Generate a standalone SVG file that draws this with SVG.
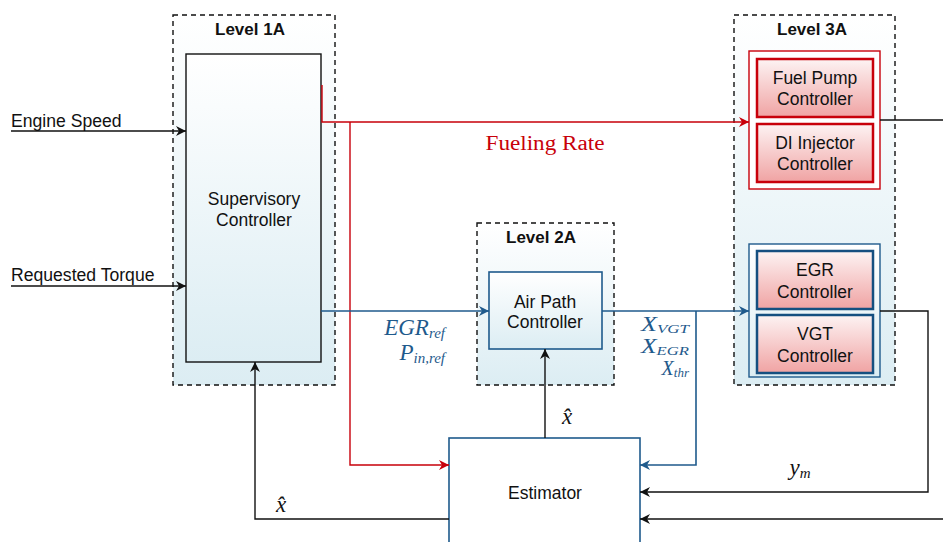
<svg xmlns="http://www.w3.org/2000/svg" width="943" height="542" viewBox="0 0 943 542">
<style>
.lbl{font-family:"Liberation Sans",Arial,sans-serif;font-size:17.6px;fill:#111}
.lvl{font-family:"Liberation Sans",Arial,sans-serif;font-size:17px;font-weight:bold;fill:#111}
.node{font-family:"Liberation Sans",Arial,sans-serif;font-size:17.5px;fill:#111;text-anchor:middle}
.math{font-family:"Liberation Serif","Times New Roman",serif;font-style:italic;font-size:23px}
.mx{font-size:20px}
.sub{font-size:15px}
.sx{font-size:13px}
.dash{stroke:#111;stroke-width:1.4;stroke-dasharray:5,4;fill:url(#gBlue)}
.blk{fill:none;stroke:#111;stroke-width:1.4}
.red{fill:none;stroke:#c8000a;stroke-width:1.4}
.blu{fill:none;stroke:#1f5a8c;stroke-width:1.6}
.rbox{fill:url(#gPink);stroke:#c8000a;stroke-width:2.5}
.bbox{fill:url(#gPink);stroke:#154f80;stroke-width:2.5}
</style>
<defs>
<linearGradient id="gBlue" x1="0" y1="0" x2="0" y2="1"><stop offset="0" stop-color="#ffffff"/><stop offset="1" stop-color="#dcedf3"/></linearGradient>
<linearGradient id="gPink" x1="0" y1="0" x2="0" y2="1"><stop offset="0" stop-color="#fdf3f3"/><stop offset="1" stop-color="#f0a3a3"/></linearGradient>
<marker id="aK" markerUnits="userSpaceOnUse" markerWidth="12" markerHeight="10" refX="10" refY="5" orient="auto"><path d="M0,0 L10,5 L0,10 L3,5 Z" fill="#111"/></marker>
<marker id="aR" markerUnits="userSpaceOnUse" markerWidth="12" markerHeight="10" refX="10" refY="5" orient="auto"><path d="M0,0 L10,5 L0,10 L3,5 Z" fill="#c8000a"/></marker>
<marker id="aB" markerUnits="userSpaceOnUse" markerWidth="12" markerHeight="10" refX="10" refY="5" orient="auto"><path d="M0,0 L10,5 L0,10 L3,5 Z" fill="#1f5a8c"/></marker>
</defs>

<g id="level1A">
<rect class="dash" x="173" y="15" width="162" height="370"/>
<text class="lvl" x="250" y="35" text-anchor="middle">Level 1A</text>
</g>
<g id="level2A">
<rect class="dash" x="477" y="223" width="137" height="162"/>
<text class="lvl" x="541" y="243" text-anchor="middle">Level 2A</text>
</g>
<g id="level3A">
<rect class="dash" x="734" y="15" width="161" height="370"/>
<text class="lvl" x="812" y="35" text-anchor="middle">Level 3A</text>
</g>

<g id="supervisory">
<rect x="186" y="54" width="135" height="308" fill="url(#gBlue)" stroke="#111" stroke-width="1.4"/>
<text class="node" x="254" y="205">Supervisory</text>
<text class="node" x="254" y="226">Controller</text>
</g>
<g id="airpath">
<rect x="489" y="272" width="113" height="77" fill="url(#gBlue)" stroke="#1f5a8c" stroke-width="1.6"/>
<text class="node" x="545" y="308">Air Path</text>
<text class="node" x="545" y="328">Controller</text>
</g>
<g id="fuelGroup">
<rect x="749" y="51" width="131" height="138" fill="#fff" stroke="#c8000a" stroke-width="1.4"/>
</g>
<g id="fuelpump">
<rect class="rbox" x="757" y="59" width="116" height="58"/>
<text class="node" x="815" y="84">Fuel Pump</text>
<text class="node" x="815" y="105">Controller</text>
</g>
<g id="diinjector">
<rect class="rbox" x="757" y="124" width="116" height="58"/>
<text class="node" x="815" y="149">DI Injector</text>
<text class="node" x="815" y="170">Controller</text>
</g>
<g id="airGroup">
<rect x="749" y="244" width="131" height="133" fill="url(#gBlue)" stroke="#1f5a8c" stroke-width="1.4"/>
</g>
<g id="egr">
<rect class="bbox" x="757" y="251" width="116" height="58"/>
<text class="node" x="815" y="276">EGR</text>
<text class="node" x="815" y="298">Controller</text>
</g>
<g id="vgt">
<rect class="bbox" x="757" y="315" width="116" height="58"/>
<text class="node" x="815" y="340">VGT</text>
<text class="node" x="815" y="362">Controller</text>
</g>
<g id="estimator">
<rect x="449" y="438" width="191" height="110" fill="#fff" stroke="#1f5a8c" stroke-width="1.6"/>
<text class="node" x="545" y="499">Estimator</text>
</g>

<g id="connectors">
<path class="blk" d="M11,131 H186" marker-end="url(#aK)"/>
<path class="blk" d="M11,286 H186" marker-end="url(#aK)"/>
<path class="red" d="M322,85 V122 H749" marker-end="url(#aR)"/>
<path class="red" d="M350,122 V465 H449" marker-end="url(#aR)"/>
<path class="blu" d="M321,311 H489" marker-end="url(#aB)"/>
<path class="blu" d="M602,311 H749" marker-end="url(#aB)"/>
<path class="blu" d="M696,311 V465 H640" marker-end="url(#aB)"/>
<path class="blk" d="M880,120 H943"/>
<path class="blk" d="M880,311 H928 V492 H640" marker-end="url(#aK)"/>
<path class="blk" d="M943,519 H640" marker-end="url(#aK)"/>
<path class="blk" d="M545,438 V349" marker-end="url(#aK)"/>
<path class="blk" d="M449,519 H255 V362" marker-end="url(#aK)"/>
</g>

<g id="labels">
<text class="lbl" x="11" y="127">Engine Speed</text>
<text class="lbl" x="11" y="281">Requested Torque</text>
<text x="545" y="150" text-anchor="middle" font-family="'Liberation Serif','Times New Roman',serif" font-size="20" fill="#c8000a" textLength="119" lengthAdjust="spacingAndGlyphs">Fueling Rate</text>
<text class="math" fill="#1f5a8c" x="445" y="335" text-anchor="end">EGR<tspan class="sub" dy="3">ref</tspan></text>
<text class="math" fill="#1f5a8c" x="445" y="360" text-anchor="end">P<tspan class="sub" dy="3">in,ref</tspan></text>
<text class="math mx" fill="#1f5a8c" x="689" y="331" text-anchor="end" textLength="48" lengthAdjust="spacingAndGlyphs">X<tspan class="sx" dy="2">VGT</tspan></text>
<text class="math mx" fill="#1f5a8c" x="689" y="353" text-anchor="end" textLength="48" lengthAdjust="spacingAndGlyphs">X<tspan class="sx" dy="2">EGR</tspan></text>
<text class="math mx" fill="#1f5a8c" x="689" y="375" text-anchor="end">X<tspan class="sx" dy="2">thr</tspan></text>
<text class="math" fill="#111" x="567" y="424" text-anchor="middle">x̂</text>
<text class="math" fill="#111" x="281" y="512" text-anchor="middle">x̂</text>
<text class="math" fill="#111" x="800" y="475" text-anchor="middle">y<tspan class="sub" dy="3">m</tspan></text>
</g>
</svg>
